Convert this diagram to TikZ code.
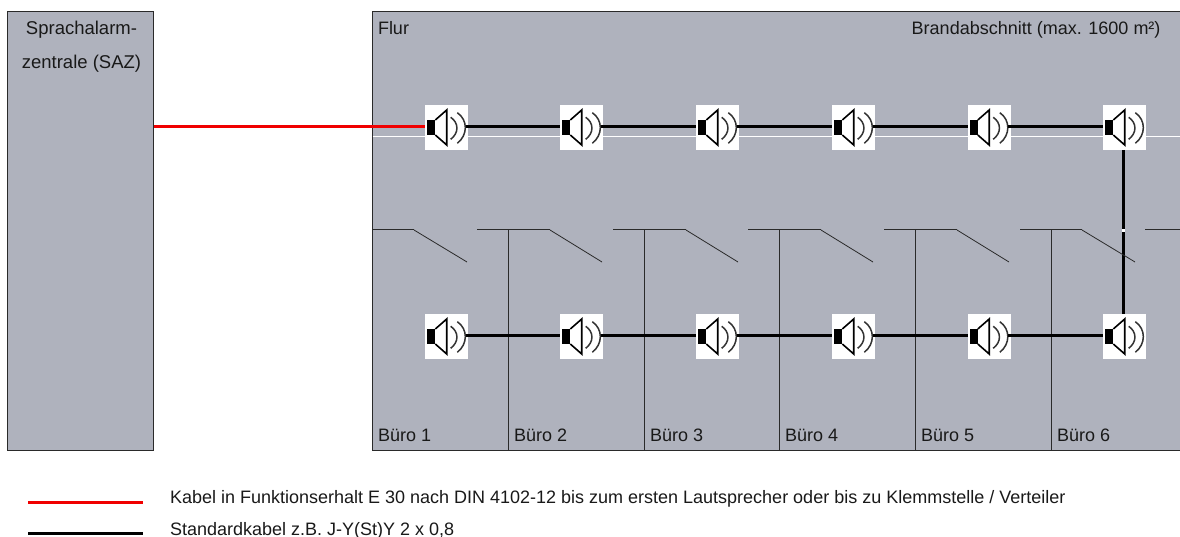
\documentclass[tikz,border=0pt]{standalone}
\usepackage{fontspec}
\setmainfont{Liberation Sans}
\definecolor{roomgray}{HTML}{AFB2BD}
\definecolor{wallc}{HTML}{2A2A2A}
\definecolor{cablered}{HTML}{F00000}
\begin{document}
\begin{tikzpicture}[x=1pt,y=-1pt,
  txt/.style={inner sep=0pt,outer sep=0pt,font=\fontsize{18pt}{22pt}\selectfont,text=black!90},
  txtc/.style={txt,font=\fontsize{18.5pt}{22pt}\selectfont},
  block/.style={fill=roomgray,inner sep=0pt,outer sep=0pt},
  spk/.style={fill=white,inner sep=0pt,outer sep=0pt,minimum width=43pt,minimum height=45pt},
  wall/.style={draw=wallc,line width=1pt},
  cable/.style={line width=3pt,black},
  firecable/.style={line width=3pt,cablered}]
\useasboundingbox (0,0) rectangle (1180,537);
% blocks
\node[block,draw=wallc,line width=1pt,minimum width=146pt,minimum height=438.5pt,anchor=north west] (saz) at (7.5,11.5) {};
\node[block,minimum width=807.5pt,minimum height=438.5pt,anchor=north west] (area) at (372.5,11.5) {};
\draw[wall] (area.north east) -- (area.north west) -- (area.south west) -- (area.south east);
% white line in corridor
\coordinate (wl) at (372.5,136.5);
\coordinate (wr) at (1180,136.5);
\draw[white,line width=1pt] (wl) -- (wr);
% walls and doors
\coordinate (w0a) at (372.5,230);
\coordinate (w0b) at (414,230);
\coordinate (d0) at (467,262);
\draw[wall] (w0a) -- (w0b);
\draw[wall,line width=0.8pt] (w0b) -- (d0);
\foreach \i/\xa/\xv/\xb/\xd in {1/477/508.5/550/602,2/613/644/686/738,3/748/779.5/821/873,4/884/915/957/1009,5/1020/1051/1082/1135}{
  \coordinate (a\i) at (\xa,230);
  \coordinate (v\i) at (\xv,230);
  \coordinate (f\i) at (\xv,450);
  \coordinate (b\i) at (\xb,230);
  \coordinate (d\i) at (\xd,262);
  \draw[wall] (a\i) -- (b\i);
  \draw[wall] (v\i) -- (f\i);
}
\coordinate (w6a) at (1145,230);
\coordinate (w6b) at (1180,230);
\draw[wall] (w6a) -- (w6b);
% speakers
\newcommand{\spkglyph}[1]{%
  \begin{scope}[shift={(#1.north west)}]
    \fill[black] (2.3,15) rectangle (10.3,30);
    \draw[black,line width=1.6pt,line join=miter] (10.3,15) -- (21.7,5) -- (21.7,40) -- (10.3,30);
    \draw[black!80,line width=1.5pt] (25.7,12.3) .. controls (34,18) and (34,28) .. (25.7,34.3);
    \draw[black!80,line width=1.5pt] (32.3,7.7) .. controls (43,15) and (43,30) .. (32.3,38.3);
  \end{scope}}
\foreach \i/\x in {1/446.5,2/581.5,3/717.5,4/853.5,5/989,6/1124.5}{
  \node[spk] (t\i) at (\x,127.5) {};
  \node[spk] (u\i) at (\x,336.5) {};
}
\foreach \i in {1,...,6}{\spkglyph{t\i}\spkglyph{u\i}}
% cables
\draw[firecable] (saz.east |- 0,126.3) -- ([yshift=1.2pt]t1.west);
\foreach \i/\j in {1/2,2/3,3/4,4/5,5/6}{
  \draw[cable] ([yshift=1.2pt,xshift=-2.5pt]t\i.east) -- ([yshift=1.2pt]t\j.west);
  \draw[cable] ([yshift=1.4pt,xshift=-2.5pt]u\i.east) -- ([yshift=1.4pt]u\j.west);
}
\draw[cable] ([xshift=-1pt]t6.south) -- ([xshift=-1pt]u6.north);
\draw[white,line width=3pt] (1122,230.5) -- (1125,230.5);
% door leaves
\foreach \i in {1,...,5}{\draw[wall,line width=0.8pt] (b\i) -- (d\i);}
% labels
\node[txtc,anchor=base] (l1) at (81.5,35) {Sprachalarm-};
\node[txtc,anchor=base] (l2) at (81.5,68.5) {zentrale (SAZ)};
\node[txt,anchor=base west] (l3) at (378,35) {Flur};
\node[txt,anchor=base east] (l4) at (1160.5,35) {Brandabschnitt (max. 1600 m²)};
\foreach \i/\x in {1/378,2/514,3/650,4/785,5/921,6/1057}{
  \node[txt,anchor=base west] (r\i) at (\x,441.7) {Büro \i};
}
% legend
\coordinate (k1a) at (28,502);
\coordinate (k1b) at (143,502);
\coordinate (k2a) at (28,533.5);
\coordinate (k2b) at (143,533.5);
\draw[firecable] (k1a) -- (k1b);
\draw[cable] (k2a) -- (k2b);
\node[txt,anchor=base west] (e1) at (170,503.5) {Kabel in Funktionserhalt E 30 nach DIN 4102-12 bis zum ersten Lautsprecher oder bis zu Klemmstelle / Verteiler};
\node[txt,anchor=base west] (e2) at (170,535) {Standardkabel z.B. J-Y(St)Y 2 x 0,8};
\end{tikzpicture}
\end{document}
